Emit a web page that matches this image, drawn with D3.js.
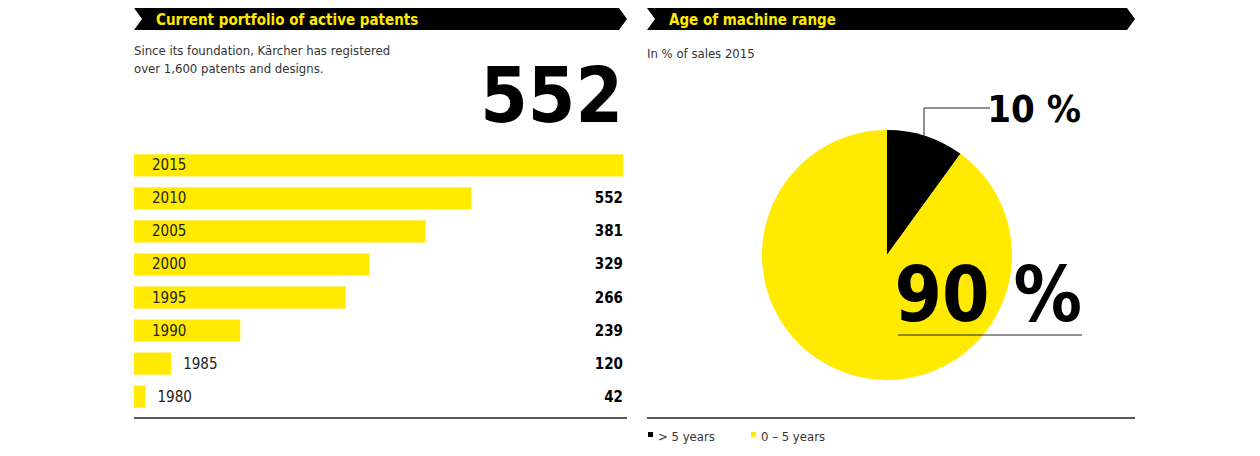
<!DOCTYPE html>
<html><head><meta charset="utf-8">
<script src="https://cdn.jsdelivr.net/npm/d3@7"></script>
<style>
body{margin:0;background:#fff;}
text{font-family:"Liberation Sans Narrow","DejaVu Sans Condensed",sans-serif;}
</style></head>
<body><svg width="1260" height="456"></svg>
<script>
var years = ["2015","2010","2005","2000","1995","1990","1985","1980"];
var patents = [552, 381, 329, 266, 239, 120, 42, 13];
var ageLabels = ["> 5 years", "0 – 5 years"];
var ageShares = [10, 90];
var ageColors = ["#000000", "#ffea00"];

var svg = d3.select("svg");
var yellow = "#ffea00";

function banner(x0, x1, title) {
  var p = d3.path();
  p.moveTo(x0, 8); p.lineTo(x1 - 8, 8); p.lineTo(x1, 19); p.lineTo(x1 - 8, 30);
  p.lineTo(x0, 30); p.lineTo(x0 + 8, 19); p.closePath();
  svg.append("path").attr("d", p.toString()).attr("fill", "#000");
  svg.append("text").attr("x", x0 + 22).attr("y", 25).attr("fill", yellow)
    .attr("font-size", 15).attr("font-weight", "bold").text(title);
}

// left panel
banner(134, 627, "Current portfolio of active patents");
svg.append("text").attr("x", 134).attr("y", 55).attr("font-size", 13).attr("fill", "#333")
  .text("Since its foundation, Kärcher has registered");
svg.append("text").attr("x", 134).attr("y", 73).attr("font-size", 13).attr("fill", "#333")
  .text("over 1,600 patents and designs.");
svg.append("text").attr("x", 623).attr("y", 122).attr("text-anchor", "end")
  .attr("font-size", 76).attr("font-weight", "bold").text("552");

var x = d3.scaleLinear().domain([0, 552]).range([134, 623]);
var y = d3.scaleBand().domain(years).range([149, 413]).paddingInner(0.33).paddingOuter(0.16);

var g = svg.selectAll(".bar").data(years).enter().append("g").attr("class", "bar");
g.append("rect").attr("x", x(0)).attr("y", function (d) { return y(d); })
  .attr("width", function (d, i) { return x(patents[i]) - x(0); })
  .attr("height", y.bandwidth()).attr("fill", yellow);
g.append("text")
  .attr("x", function (d, i) { return x(patents[i]) - x(0) < 60 ? x(patents[i]) + 12 : 152; })
  .attr("y", function (d) { return y(d) + y.bandwidth() / 2 + 5; })
  .attr("font-size", 15).attr("fill", "#222").text(function (d) { return d; });
g.append("text")
  .filter(function (d, i) { return i > 0; })
  .attr("x", 623).attr("text-anchor", "end")
  .attr("y", function (d) { return y(d) + y.bandwidth() / 2 + 5; })
  .attr("font-size", 15).attr("font-weight", "bold")
  .text(function (d, i) { return patents[i]; });
svg.append("line").attr("x1", 134).attr("x2", 627).attr("y1", 418).attr("y2", 418)
  .attr("stroke", "#222").attr("stroke-width", 1.5);

// right panel
banner(647, 1135, "Age of machine range");
svg.append("text").attr("x", 647).attr("y", 58).attr("font-size", 13).attr("fill", "#333")
  .text("In % of sales 2015");

var pie = d3.pie().sort(null).value(function (d) { return d; });
var arc = d3.arc().innerRadius(0).outerRadius(125);
var pg = svg.append("g").attr("transform", "translate(887,255)");
pg.selectAll("path").data(pie(ageShares)).enter().append("path")
  .attr("d", arc).attr("fill", function (d, i) { return ageColors[i]; });

svg.append("path").attr("d", "M924,137V108H990").attr("fill", "none").attr("stroke", "#222");
svg.append("text").attr("x", 1081).attr("y", 122).attr("text-anchor", "end")
  .attr("font-size", 38).attr("font-weight", "bold").text(ageShares[0] + " %");
svg.append("line").attr("x1", 898).attr("x2", 1082).attr("y1", 335).attr("y2", 335).attr("stroke", "#222");
svg.append("text").attr("x", 1082).attr("y", 321).attr("text-anchor", "end")
  .attr("font-size", 76).attr("font-weight", "bold").text(ageShares[1] + " %");

svg.append("line").attr("x1", 647).attr("x2", 1135).attr("y1", 418).attr("y2", 418)
  .attr("stroke", "#222").attr("stroke-width", 1.5);
var lg = svg.selectAll(".lg").data(ageLabels).enter().append("g")
  .attr("transform", function (d, i) { return "translate(" + (648 + i * 103) + ",437)"; });
lg.append("rect").attr("x", 0).attr("y", -5).attr("width", 5).attr("height", 5)
  .attr("fill", function (d, i) { return ageColors[i]; });
lg.append("text").attr("x", 10).attr("y", 4).attr("font-size", 13).attr("fill", "#333")
  .text(function (d) { return d; });
</script></body></html>
